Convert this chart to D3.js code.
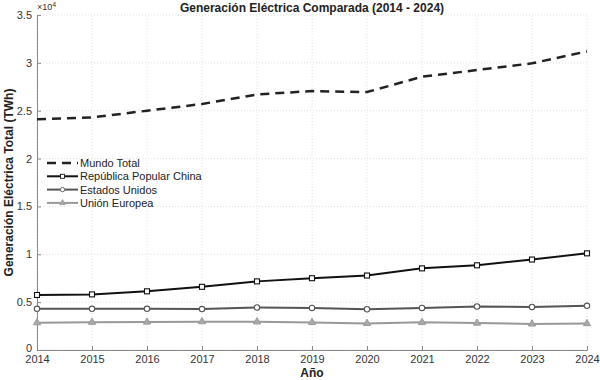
<!DOCTYPE html>
<html><head><meta charset="utf-8">
<script src="https://cdn.jsdelivr.net/npm/d3@7"></script>
<style>body{margin:0;background:#fff;}svg{display:block;font-family:"Liberation Sans",Arial,sans-serif;}</style>
</head><body>
<svg id="c" width="600" height="380"></svg>
<script>
const years = [2014,2015,2016,2017,2018,2019,2020,2021,2022,2023,2024];
const mundo = [24100,24300,25000,25700,26700,27050,26950,28550,29250,29950,31200];
const china = [5750,5810,6130,6600,7170,7500,7780,8530,8850,9450,10100];
const usa = [4300,4300,4300,4280,4450,4400,4260,4400,4550,4500,4620];
const ue = [2850,2900,2920,2960,2940,2880,2780,2890,2810,2720,2760];
const yTicks = [0,5000,10000,15000,20000,25000,30000,35000];
const seriesNames = ["Mundo Total","República Popular China","Estados Unidos","Unión Europea"];

const svg = d3.select("#c");
const m = {l:37, r:13, t:15, b:30};
const W = 600, H = 380;
const x = d3.scaleLinear().domain([2014,2024]).range([m.l, W-m.r]);
const y = d3.scaleLinear().domain([0,35000]).range([H-m.b, m.t]);

// grid
const g = svg.append("g");
g.selectAll(".gx").data(years).join("line")
  .attr("x1",d=>x(d)).attr("x2",d=>x(d)).attr("y1",y(0)).attr("y2",y(35000))
  .attr("stroke","#d8d8d8").attr("stroke-width",0.8).attr("stroke-dasharray","1,2");
g.selectAll(".gy").data(yTicks).join("line")
  .attr("x1",x(2014)).attr("x2",x(2024)).attr("y1",d=>y(d)).attr("y2",d=>y(d))
  .attr("stroke","#d8d8d8").attr("stroke-width",0.8).attr("stroke-dasharray","1,2");

// axes
const xa = svg.append("g").attr("transform",`translate(0,${y(0)})`)
  .call(d3.axisBottom(x).tickValues(years).tickFormat(d3.format("d")).tickSizeInner(-4).tickSizeOuter(0).tickPadding(7));
const ya = svg.append("g").attr("transform",`translate(${x(2014)},0)`)
  .call(d3.axisLeft(y).tickValues(yTicks).tickFormat(d=>d/10000).tickSizeInner(-4).tickSizeOuter(0).tickPadding(5));
[xa,ya].forEach(a=>{
  a.select(".domain").attr("stroke","#888");
  a.selectAll(".tick line").attr("stroke","#888");
  a.selectAll("text").attr("fill","#333").attr("font-size",11).attr("font-family","Liberation Sans, Arial, sans-serif");
});
xa.selectAll("text").attr("dy","0.5em");
ya.selectAll(".tick").filter(d=>d===0).select("text").attr("dy","0.1em");
svg.append("text").attr("x",x(2014)).attr("y",10).attr("font-size",9).attr("fill","#333")
  .html('×10<tspan dy="-3" font-size="7">4</tspan>');

// title and labels
svg.append("text").attr("x",(x(2014)+x(2024))/2).attr("y",12).attr("text-anchor","middle")
  .attr("font-size",12).attr("font-weight","bold").attr("fill","#222").text("Generación Eléctrica Comparada (2014 - 2024)");
svg.append("text").attr("x",(x(2014)+x(2024))/2).attr("y",377).attr("text-anchor","middle")
  .attr("font-size",12).attr("font-weight","bold").attr("fill","#222").text("Año");
svg.append("text").attr("transform",`translate(13,${(y(0)+y(35000))/2}) rotate(-90)`).attr("text-anchor","middle")
  .attr("font-size",12).attr("font-weight","bold").attr("fill","#222").text("Generación Eléctrica Total (TWh)");

const line = d3.line().x((d,i)=>x(years[i])).y(d=>y(d));
const series = [
  {v:mundo, c:"#222", w:2.5, dash:"9,6", m:null},
  {v:china, c:"#111", w:2, dash:null, m:"square"},
  {v:usa, c:"#555", w:2, dash:null, m:"circle"},
  {v:ue, c:"#999", w:2, dash:null, m:"triangle"}
];
function marker(sel, type, c){
  if(type==="square") sel.append("rect").attr("x",-2.5).attr("y",-2.5).attr("width",5).attr("height",5).attr("fill","#fff").attr("stroke",c).attr("stroke-width",1.1);
  else if(type==="circle") sel.append("circle").attr("r",2.7).attr("fill","#fff").attr("stroke",c).attr("stroke-width",1.1);
  else if(type==="triangle") sel.append("path").attr("d",d3.symbol(d3.symbolTriangle,22)()).attr("fill","#aaa").attr("stroke",c).attr("stroke-width",1);
}
series.slice().reverse().forEach(s=>{
  svg.append("path").attr("d",line(s.v)).attr("fill","none").attr("stroke",s.c).attr("stroke-width",s.w)
    .attr("stroke-dasharray",s.dash);
  if(s.m){
    s.v.forEach((d,i)=>{
      const mk = svg.append("g").attr("transform",`translate(${x(years[i])},${y(d)})`);
      marker(mk,s.m,s.c);
    });
  }
});

// legend
const lg = svg.append("g");
seriesNames.forEach((n,i)=>{
  const s = series[i];
  const yy = 163 + i*13.3;
  lg.append("line").attr("x1",47).attr("x2",78).attr("y1",yy).attr("y2",yy).attr("stroke",s.c).attr("stroke-width",s.w)
    .attr("stroke-dasharray",s.dash? "9,6": null);
  if(s.m){ const mk = lg.append("g").attr("transform",`translate(62.5,${yy}) scale(0.8)`); marker(mk,s.m,s.c); }
  lg.append("text").attr("x",80).attr("y",yy+4).attr("font-size",11).attr("fill","#222").text(n);
});
</script>
</body></html>
